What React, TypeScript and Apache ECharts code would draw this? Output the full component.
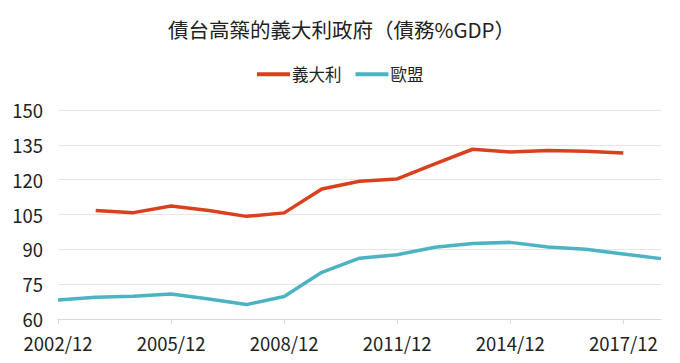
import React, { useEffect, useRef } from "react";
import * as echarts from "echarts";

const categories = [
  "2002/12", "2003/12", "2004/12", "2005/12", "2006/12", "2007/12", "2008/12", "2009/12",
  "2010/12", "2011/12", "2012/12", "2013/12", "2014/12", "2015/12", "2016/12", "2017/12", "2018/12",
];
const italy: (number | null)[] = [
  null, 106.7, 105.8, 108.7, 106.7, 104.2, 105.7, 116.0, 119.3, 120.3, 126.8, 133.1, 131.9, 132.6, 132.2, 131.5, null,
];
const eu: number[] = [
  68.2, 69.4, 69.8, 70.8, 68.6, 66.2, 69.7, 80.1, 86.2, 87.7, 90.9, 92.5, 93.0, 91.0, 90.0, 88.0, 86.0,
];
const seriesNames = ["義大利", "歐盟"];
const titleText = "債台高築的義大利政府（債務%GDP）";

const cjkFont = "'Noto Sans CJK TC', 'Noto Sans', sans-serif";

export default function App() {
  const ref = useRef<HTMLDivElement>(null);
  useEffect(() => {
    if (!ref.current) return;
    const chart = echarts.init(ref.current, undefined, { renderer: "svg" });
    chart.setOption({
      animation: false,
      backgroundColor: "#ffffff",
      title: {
        text: titleText,
        left: 168,
        top: 19,
        padding: 0,
        textStyle: { fontFamily: cjkFont, fontSize: 20.5, fontWeight: "normal", color: "#222" },
      },
      legend: {
        top: 66,
        left: 257,
        padding: 0,
        itemWidth: 33,
        itemHeight: 4,
        itemGap: 14,
        icon: "rect",
        textStyle: { fontFamily: cjkFont, fontSize: 16.5, color: "#222", padding: [0, 0, 0, -3] },
        data: seriesNames,
      },
      grid: { left: 58, right: 19, top: 110, bottom: 44 },
      xAxis: {
        type: "category",
        data: categories,
        boundaryGap: false,
        axisLine: { lineStyle: { color: "#d9d9d9" } },
        axisTick: {
          length: 5,
          lineStyle: { color: "#d9d9d9" },
          interval: (i: number) => i % 3 === 0,
        },
        axisLabel: {
          interval: (i: number) => i % 3 === 0,
          fontFamily: cjkFont,
          fontSize: 18.5,
          lineHeight: 18,
          color: "#222",
          margin: 15,
        },
        splitLine: { show: false },
      },
      yAxis: {
        type: "value",
        min: 60,
        max: 150,
        interval: 15,
        axisLine: { show: false },
        axisTick: { show: false },
        axisLabel: { fontFamily: cjkFont, fontSize: 18.5, lineHeight: 16, color: "#222", margin: 15 },
        splitLine: { lineStyle: { color: "#e6e6e6" } },
      },
      series: [
        {
          name: seriesNames[0],
          type: "line",
          data: italy,
          showSymbol: false,
          symbol: "none",
          lineStyle: { width: 3.5, color: "#d9411e" },
          itemStyle: { color: "#d9411e" },
        },
        {
          name: seriesNames[1],
          type: "line",
          data: eu,
          showSymbol: false,
          symbol: "none",
          lineStyle: { width: 3.5, color: "#4db3c2" },
          itemStyle: { color: "#4db3c2" },
        },
      ],
    });
    return () => chart.dispose();
  }, []);
  return <div ref={ref} style={{ width: 680, height: 363, position: "absolute", left: 0, top: 0 }} />;
}
